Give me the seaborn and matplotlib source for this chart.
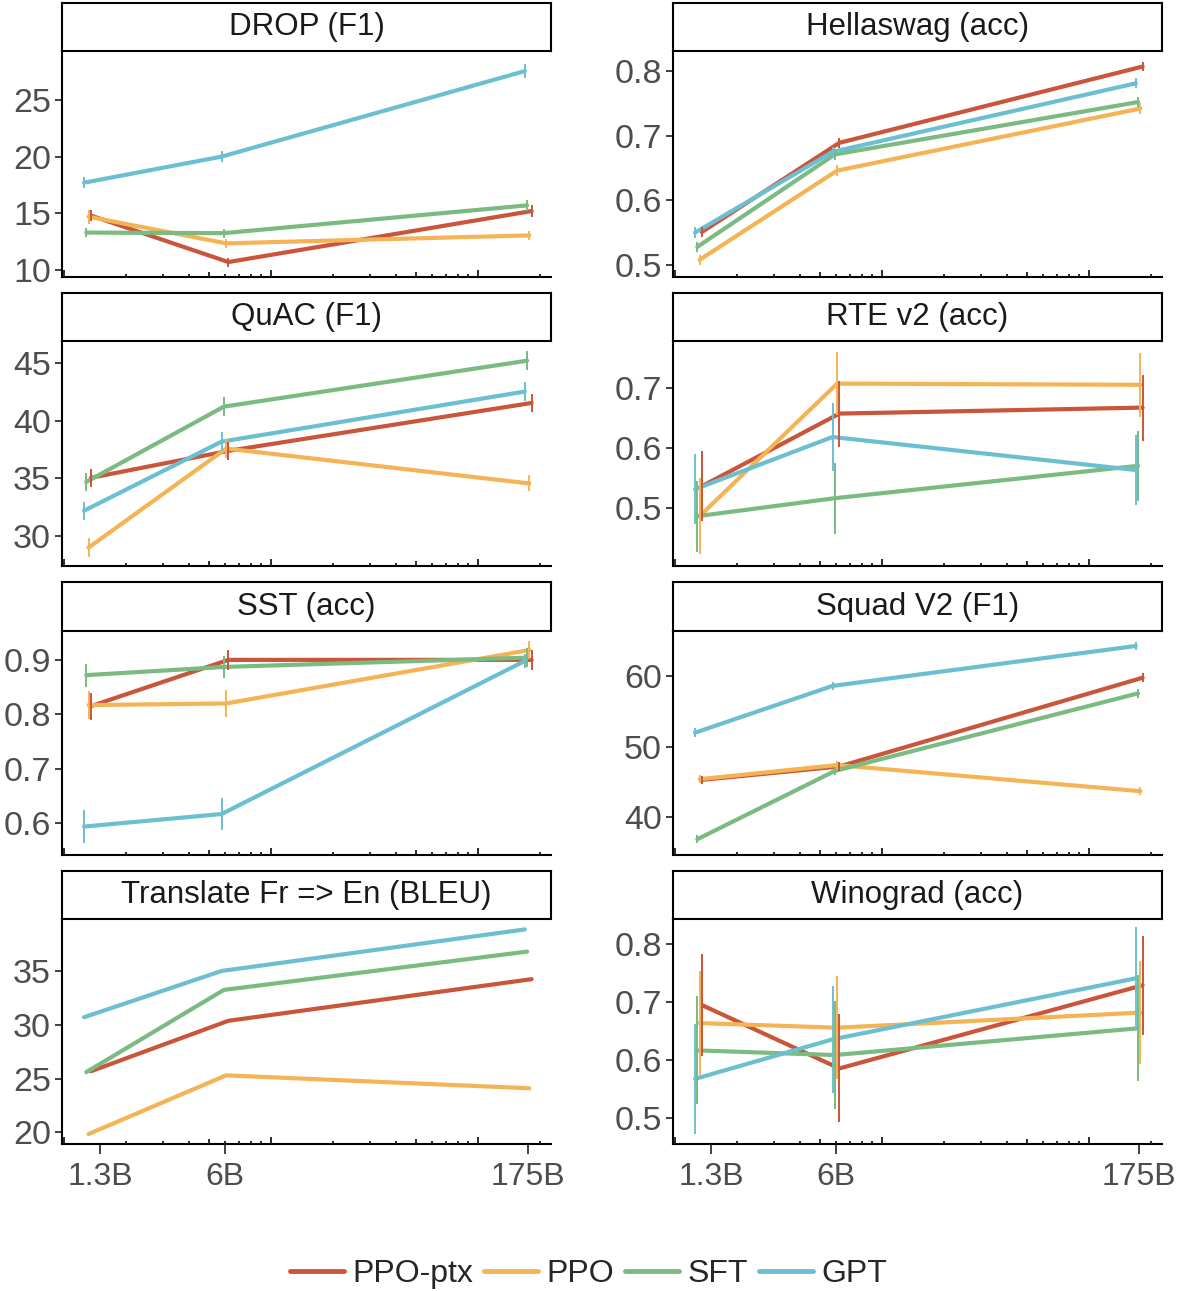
import numpy as np
import pandas as pd
import matplotlib
matplotlib.use("Agg")
import matplotlib.pyplot as plt
import seaborn as sns
from matplotlib.lines import Line2D

# ---------------- data ----------------
SIZES = [1.3e9, 6e9, 175e9]
TICK_POS = [1.5e9, 6e9, 175e9]
TICK_LABELS = ["1.3B", "6B", "175B"]
MODELS = ["PPO-ptx", "PPO", "SFT", "GPT"]
COLORS = ["#C9553B", "#F4B455", "#7BBA80", "#6BBFD1"]

TASKS = ["DROP (F1)", "Hellaswag (acc)", "QuAC (F1)", "RTE v2 (acc)",
         "SST (acc)", "Squad V2 (F1)", "Translate Fr => En (BLEU)", "Winograd (acc)"]

DROP_MEAN = {"PPO-ptx": [14.8, 10.7, 15.2], "PPO": [14.7, 12.35, 13.05],
             "SFT": [13.3, 13.25, 15.7], "GPT": [17.7, 20.0, 27.55]}
DROP_ERR = {"PPO-ptx": [0.5, 0.4, 0.5], "PPO": [0.6, 0.4, 0.4],
            "SFT": [0.4, 0.4, 0.5], "GPT": [0.5, 0.5, 0.6]}

HELLA_MEAN = {"PPO-ptx": [0.551, 0.689, 0.807], "PPO": [0.508, 0.646, 0.742],
              "SFT": [0.528, 0.671, 0.752], "GPT": [0.550, 0.675, 0.781]}
HELLA_ERR = {"PPO-ptx": [0.008, 0.008, 0.007], "PPO": [0.008, 0.008, 0.008],
             "SFT": [0.008, 0.008, 0.008], "GPT": [0.008, 0.008, 0.008]}

QUAC_MEAN = {"PPO-ptx": [35.06, 37.4, 41.56], "PPO": [29.0, 37.6, 34.57],
             "SFT": [34.7, 41.24, 45.23], "GPT": [32.2, 38.2, 42.55]}
QUAC_ERR = {"PPO-ptx": [0.8, 0.8, 0.8], "PPO": [0.8, 0.8, 0.7],
            "SFT": [0.8, 0.8, 0.8], "GPT": [0.8, 0.8, 0.8]}

RTE_MEAN = {"PPO-ptx": [0.537, 0.658, 0.668], "PPO": [0.487, 0.708, 0.706],
            "SFT": [0.487, 0.517, 0.571], "GPT": [0.532, 0.619, 0.564]}
RTE_ERR = {"PPO-ptx": [0.058, 0.055, 0.055], "PPO": [0.063, 0.053, 0.053],
           "SFT": [0.059, 0.059, 0.058], "GPT": [0.058, 0.057, 0.058]}

SST_MEAN = {"PPO-ptx": [0.815, 0.900, 0.900], "PPO": [0.817, 0.820, 0.918],
            "SFT": [0.872, 0.887, 0.904], "GPT": [0.594, 0.617, 0.898]}
SST_ERR = {"PPO-ptx": [0.025, 0.019, 0.018], "PPO": [0.025, 0.024, 0.017],
           "SFT": [0.021, 0.020, 0.018], "GPT": [0.031, 0.030, 0.013]}

SQUAD_MEAN = {"PPO-ptx": [45.3, 47.2, 59.76], "PPO": [45.4, 47.4, 43.7],
              "SFT": [36.9, 46.56, 57.55], "GPT": [51.98, 58.6, 64.25]}
SQUAD_ERR = {"PPO-ptx": [0.6, 0.6, 0.6], "PPO": [0.6, 0.6, 0.6],
             "SFT": [0.6, 0.6, 0.6], "GPT": [0.6, 0.6, 0.6]}

TRANS_MEAN = {"PPO-ptx": [25.68, 30.37, 34.24], "PPO": [19.85, 25.3, 24.1],
              "SFT": [25.6, 33.24, 36.8], "GPT": [30.7, 35.0, 38.86]}
TRANS_ERR = None

WINO_MEAN = {"PPO-ptx": [0.695, 0.586, 0.729], "PPO": [0.664, 0.656, 0.682],
             "SFT": [0.617, 0.609, 0.655], "GPT": [0.568, 0.636, 0.741]}
WINO_ERR = {"PPO-ptx": [0.088, 0.093, 0.085], "PPO": [0.089, 0.089, 0.089],
            "SFT": [0.093, 0.093, 0.091], "GPT": [0.095, 0.092, 0.089]}

MEANS = [DROP_MEAN, HELLA_MEAN, QUAC_MEAN, RTE_MEAN, SST_MEAN, SQUAD_MEAN, TRANS_MEAN, WINO_MEAN]
ERRS = [DROP_ERR, HELLA_ERR, QUAC_ERR, RTE_ERR, SST_ERR, SQUAD_ERR, TRANS_ERR, WINO_ERR]

YLIMS = [(9.38, 29.32), (0.4814, 0.831), (27.4, 46.94), (0.404, 0.779),
         (0.5418, 0.953), (34.67, 66.37), (18.92, 39.83), (0.456, 0.843)]
YTICKS = [[10, 15, 20, 25], [0.5, 0.6, 0.7, 0.8], [30, 35, 40, 45], [0.5, 0.6, 0.7],
          [0.6, 0.7, 0.8, 0.9], [40, 50, 60], [20, 25, 30, 35], [0.5, 0.6, 0.7, 0.8]]

# dodge (log10 units), GPT leftmost ... PPO-ptx rightmost
DODGE = {"GPT": -0.0165, "SFT": -0.0055, "PPO": 0.0055, "PPO-ptx": 0.0165}
XLIM = (10 ** 8.991, 10 ** 11.353)

# ---------------- style ----------------
sns.set_style("ticks")
plt.rcParams['font.family'] = ['Liberation Sans', 'DejaVu Sans']

W, H = 1177, 1291
fig = plt.figure(figsize=(W / 100, H / 100), dpi=100)

COLS = [(62, 551), (673, 1162)]
ROWS = [(3, 51, 277), (293, 341, 566), (582, 631, 855), (871, 919, 1144)]
palette = dict(zip(MODELS, COLORS))
FS_STRIP = 22.5
FS_Y = 24.5
FS_X = 23
FS_LEG = 23
LW_AX = 1.5

for i, task in enumerate(TASKS):
    r, c = divmod(i, 2)
    x0, x1 = COLS[c]
    st, sb, ab = ROWS[r]
    ax = fig.add_axes([x0 / W, 1 - ab / H, (x1 - x0) / W, (ab - sb) / H])
    sax = fig.add_axes([x0 / W, 1 - sb / H, (x1 - x0) / W, (sb - st) / H])

    # strip
    sax.set_xticks([]); sax.set_yticks([])
    for s in sax.spines.values():
        s.set_visible(True); s.set_linewidth(LW_AX); s.set_color("black")
    sax.set_facecolor("white")
    sax.text(0.5, 0.5, task, ha="center", va="center", fontsize=FS_STRIP,
             color="#1A1A1A", transform=sax.transAxes)

    # data frame
    mean = MEANS[i]
    err = ERRS[i]
    rows = []
    for m in MODELS:
        for j, s in enumerate(SIZES):
            e = err[m][j] if err is not None else 0.0
            rows.append({"model": m, "x": s * 10 ** DODGE[m], "y": mean[m][j], "e": e})
    df = pd.DataFrame(rows)

    sns.lineplot(data=df, x="x", y="y", hue="model", hue_order=MODELS,
                 palette=palette, linewidth=3.0, estimator=None, sort=True,
                 legend=False, ax=ax, zorder=3)
    if err is not None:
        for m in MODELS:
            d = df[df.model == m]
            ax.vlines(d.x, d.y - d.e, d.y + d.e, color=palette[m], linewidth=1.4, zorder=3)

    ax.set_xscale("log")
    ax.set_xlim(*XLIM)
    ax.set_ylim(*YLIMS[i])
    ax.set_yticks(YTICKS[i])
    ax.set_yticklabels([f"{v:g}" for v in YTICKS[i]])
    ax.set_xlabel(""); ax.set_ylabel("")
    ax.minorticks_off()
    sns.despine(ax=ax)
    for s in ["left", "bottom"]:
        ax.spines[s].set_linewidth(LW_AX); ax.spines[s].set_color("black")
    ax.tick_params(axis="y", labelsize=FS_Y, labelcolor="#4D4D4D", length=5,
                   width=1.3, color="#333333", pad=3, direction="out")
    if r == 3:
        ax.set_xticks(TICK_POS)
        ax.set_xticklabels(TICK_LABELS)
        ax.tick_params(axis="x", labelsize=FS_X, labelcolor="#4D4D4D", length=7,
                       width=1.3, color="#333333", pad=6, direction="out")
    else:
        ax.set_xticks([])

    # inward log ticks (annotation_logticks style)
    axh = ab - sb
    trans = ax.get_xaxis_transform()
    for k in (9, 10, 11):
        for mul in range(1, 10):
            v = mul * 10 ** k
            if v < XLIM[0] * 0.999 or v > XLIM[1]:
                continue
            L = 7 if mul == 1 else (5 if mul == 5 else 3)
            ax.plot([v, v], [0, L / axh], transform=trans, color="#1A1A1A",
                    linewidth=1.3, solid_capstyle="butt", clip_on=False, zorder=4)

handles = [Line2D([0], [0], color=col, linewidth=3.5) for col in COLORS]
fig.legend(handles, MODELS, loc="center", bbox_to_anchor=(0.5, 1 - 1274 / H),
           ncol=4, frameon=False, fontsize=FS_LEG, handlelength=1.7,
           handletextpad=0.25, columnspacing=0.35)

fig.savefig("out.png", dpi=100)
